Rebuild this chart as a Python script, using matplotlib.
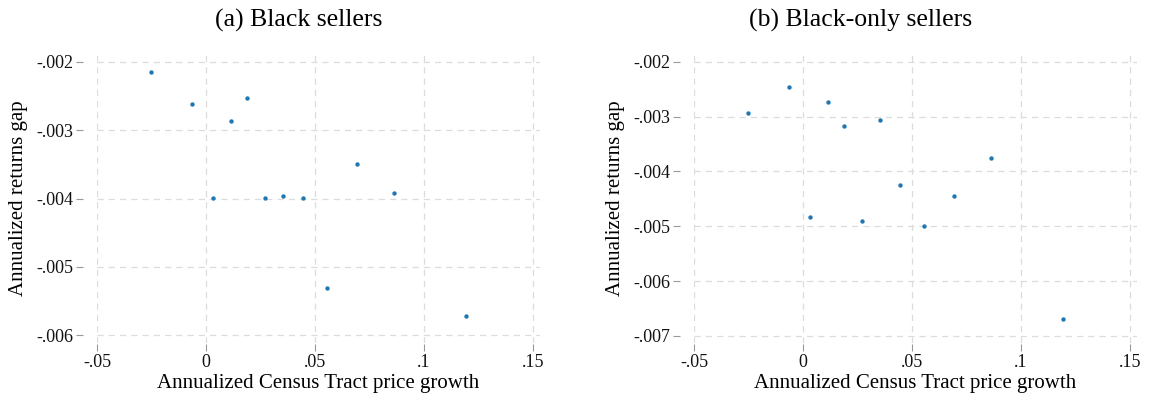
import matplotlib.pyplot as plt
import numpy as np

# binned scatter points (same x bins in both panels)
price_growth = [-0.0254, -0.0064, 0.0034, 0.0115, 0.0190, 0.0269,
                0.0351, 0.0444, 0.0556, 0.0692, 0.0863, 0.1193]
gap_black = [-0.00216, -0.00262, -0.003995, -0.00287, -0.002535, -0.003995,
             -0.00396, -0.003995, -0.005314, -0.003489, -0.003917, -0.005718]
gap_black_only = [-0.002943, -0.002468, -0.004829, -0.00273, -0.003168, -0.004914,
                  -0.003064, -0.004257, -0.005000, -0.004451, -0.003764, -0.006696]

titles = ["(a) Black sellers", "(b) Black-only sellers"]
xticks = [-0.05, 0, 0.05, 0.1, 0.15]
xticklabels = ["-.05", "0", ".05", ".1", ".15"]
yticks_a = [-0.002, -0.003, -0.004, -0.005, -0.006]
yticks_b = [-0.002, -0.003, -0.004, -0.005, -0.006, -0.007]

plt.rcParams['font.family'] = ['Liberation Serif', 'DejaVu Serif']

fig = plt.figure(figsize=(11.51, 4), dpi=100)
ax1 = fig.add_axes([97 / 1151, 1 - 343 / 400, 443 / 1151, 289 / 400])
ax2 = fig.add_axes([694 / 1151, 1 - 343 / 400, 443 / 1151, 289 / 400])

panels = [(ax1, gap_black, yticks_a, (-0.00611, -0.00189)),
          (ax2, gap_black_only, yticks_b, (-0.00713, -0.00186))]

for ax, ys, yt, ylim in panels:
    ax.scatter(price_growth, ys, s=10, color='#1f77b4', zorder=3, linewidths=0)
    ax.set_xlim(-0.05, 0.1532)
    ax.set_ylim(*ylim)
    ax.set_xticks(xticks)
    ax.set_xticklabels(xticklabels)
    ax.set_yticks(yt)
    ax.set_yticklabels(["-" + ("%.3f" % abs(v))[1:] for v in yt])
    ax.grid(True, color='#dcdcdc', linestyle=(0, (5, 4)), linewidth=0.9)
    for sp in ax.spines.values():
        sp.set_visible(False)
    # stata-like gap between tick marks and plot region
    ax.spines['left'].set_position(('outward', 10))
    ax.spines['bottom'].set_position(('outward', 1))
    ax.tick_params(axis='both', length=5, width=0.8, color='#999999',
                   labelsize=13, labelcolor='#111111', pad=2)
    ax.set_xlabel("Annualized Census Tract price growth", fontsize=15, labelpad=2)
    ax.set_ylabel("Annualized returns gap", fontsize=15, labelpad=6)

fig.text(299 / 1151, 1 - 20 / 400, titles[0], fontsize=18.5, ha='center', va='center')
fig.text(861 / 1151, 1 - 20 / 400, titles[1], fontsize=18.5, ha='center', va='center')

fig.savefig("out.png", dpi=100)
